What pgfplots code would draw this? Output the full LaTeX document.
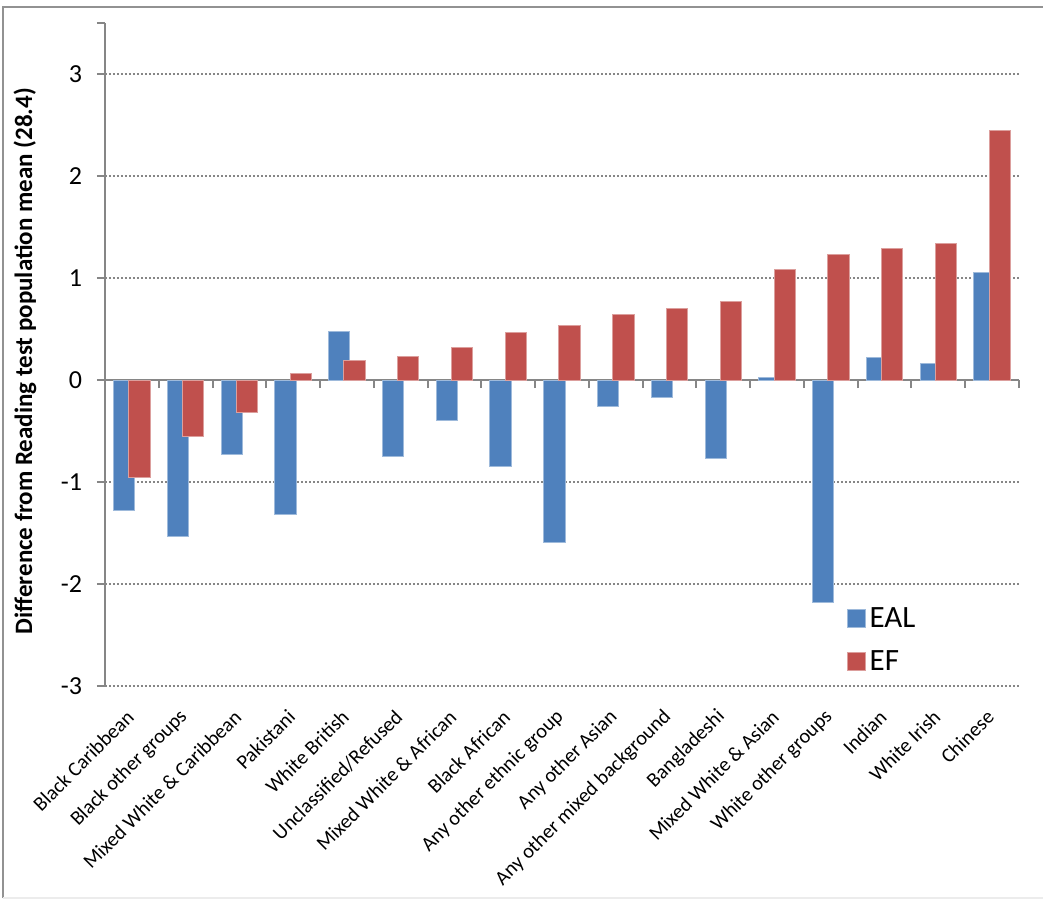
\documentclass[border=0pt]{standalone}
\usepackage{pgfplots}
\pgfplotsset{compat=1.18}
\usepackage{fontspec}
\setmainfont{Carlito}
\definecolor{ealblue}{RGB}{79,129,189}
\definecolor{efred}{RGB}{192,80,77}
\definecolor{axgray}{RGB}{134,134,134}

\begin{document}
\begin{tikzpicture}
\useasboundingbox (0,0) rectangle (521.5pt,-449.5pt);
% chart frame
\draw[axgray!90, line width=1pt] (1.5pt,-449pt) -- (1.5pt,-3.5pt) -- (521.5pt,-3.5pt);
\draw[gray!15, line width=1pt] (1.5pt,-449pt) -- (521.5pt,-449pt);
\begin{axis}[
    at={(52.5pt,-343pt)}, anchor=south west,
    scale only axis, width=457pt, height=331.5pt,
    xmin=-0.5, xmax=16.5, ymin=-3, ymax=3.5,
    axis y line*=left, axis x line*=middle,
    hide obscured x ticks=false,
    axis line style={axgray, line width=1pt},
    tick style={axgray, line width=1pt},
    tick align=outside, major tick length=4pt,
    ytick={-3,-2,-1,0,1,2,3},
    yticklabels={-3,-2,-1,0,1,2,3},
    extra y ticks={3.5}, extra y tick labels={},
    extra y tick style={grid=none},
    yticklabel style={font=\fontsize{13}{15}\selectfont, xshift=-4pt},
    ymajorgrids,
    major grid style={axgray, line width=1pt, dash pattern=on 1pt off 1pt},
    xtick={-0.5,0.5,...,16.5},
    x tick label as interval,
    xticklabels={Black Caribbean, Black other groups, Mixed White \& Caribbean,
      Pakistani, White British, Unclassified/Refused, Mixed White \& African,
      Black African, Any other ethnic group, Any other Asian,
      Any other mixed background, Bangladeshi, Mixed White \& Asian,
      White other groups, Indian, White Irish, Chinese},
    xticklabel style={font=\fontsize{10.2}{12}\selectfont, yshift=-162pt,
      rotate=45, anchor=east, inner sep=1pt},
    ylabel={\textbf{Difference from Reading test population mean (28.4)}},
    every axis y label/.style={at={(axis description cs:0,0.49)},
      xshift=-40pt, rotate=90, anchor=center,
      font=\fontsize{12.5}{14}\selectfont},
    ybar, bar width=0.396,
    legend style={draw=none, fill=none, at={(0.811,0.125)}, anchor=north west,
      font=\fontsize{15.5}{17}\selectfont, row sep=6pt,
      inner sep=0pt},
    legend cell align=left,
    legend image code/.code={\fill[#1] (0pt,-4.5pt) rectangle (9pt,4.5pt);},
]
\addplot[fill=ealblue, draw=ealblue!55!white, line width=0.5pt, bar shift=-0.142]
coordinates {
    (0,-1.28) (1,-1.53) (2,-0.73) (3,-1.32) (4,0.48) (5,-0.75) (6,-0.40)
    (7,-0.85) (8,-1.59) (9,-0.26) (10,-0.17) (11,-0.77) (12,0.02)
    (13,-2.18) (14,0.22) (15,0.16) (16,1.05)
};
\addlegendentry{EAL}
\addplot[fill=efred, draw=efred!55!white, line width=0.5pt, bar shift=0.142]
coordinates {
    (0,-0.96) (1,-0.55) (2,-0.32) (3,0.06) (4,0.19) (5,0.23) (6,0.32)
    (7,0.47) (8,0.53) (9,0.64) (10,0.70) (11,0.77) (12,1.08)
    (13,1.23) (14,1.29) (15,1.34) (16,2.45)
};
\addlegendentry{EF}
\end{axis}
\end{tikzpicture}
\end{document}
